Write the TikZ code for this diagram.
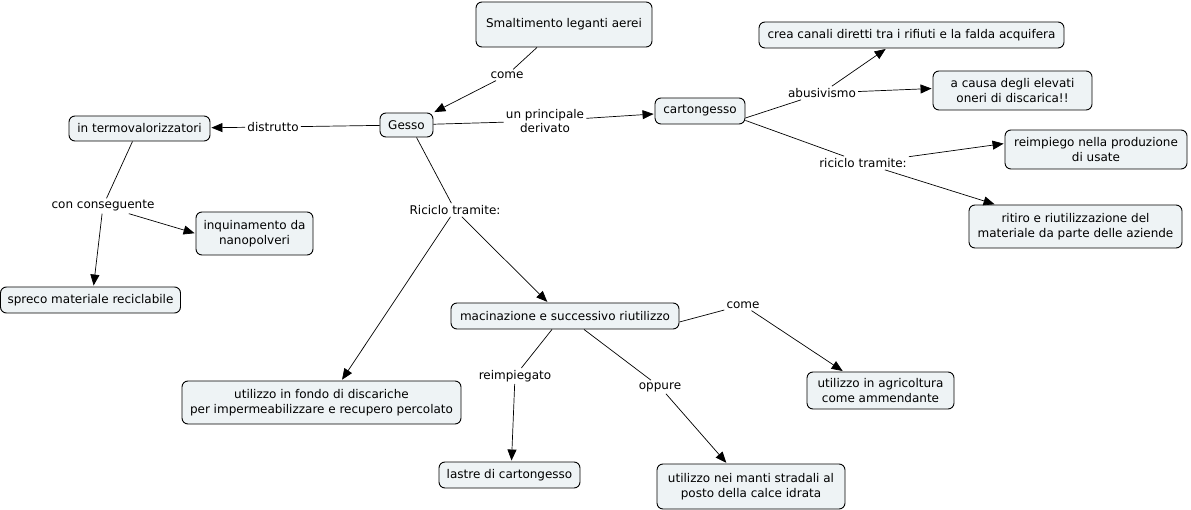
\documentclass[tikz,border=0pt]{standalone}
\usepackage{fontspec}
\setmainfont{DejaVu Sans}
\usetikzlibrary{arrows.meta}
\definecolor{boxfill}{HTML}{EEF3F5}
\tikzset{
  concept/.style={draw=black, fill=boxfill, rounded corners=6pt, line width=0.9pt,
    align=center, inner sep=0pt, font=\fontsize{12}{14.5}\selectfont},
  lbl/.style={align=center, inner sep=2pt, font=\fontsize{12}{14.5}\selectfont},
  conn/.style={line width=0.7pt},
  arr/.style={line width=0.7pt, -{Triangle[length=11pt,width=9pt]}, shorten >=1pt},
}
\begin{document}
\begin{tikzpicture}[x=1pt,y=-1pt]
\useasboundingbox (0,0) rectangle (1191,510);
% concepts
\node[concept, minimum width=176, minimum height=45] (smalt) at (564,24.5) {Smaltimento leganti aerei};
\node[concept, minimum width=53, minimum height=24] (gesso) at (406.5,125) {Gesso};
\node[concept, minimum width=90, minimum height=26] (cart) at (700,111) {cartongesso};
\node[concept, minimum width=305, minimum height=26] (crea) at (911.5,35) {crea canali diretti tra i rifiuti e la falda acquifera};
\node[concept, minimum width=159, minimum height=39] (acausa) at (1012.5,90.5) {a causa degli elevati\\oneri di discarica!!};
\node[concept, minimum width=182, minimum height=39] (reimp) at (1096,149.5) {reimpiego nella produzione\\di usate};
\node[concept, minimum width=213, minimum height=43] (ritiro) at (1075.5,226.5) {ritiro e riutilizzazione del\\materiale da parte delle aziende};
\node[concept, minimum width=141, minimum height=25] (termo) at (139.5,128.5) {in termovalorizzatori};
\node[concept, minimum width=117, minimum height=43] (inquin) at (254.5,233.5) {inquinamento da\\nanopolveri};
\node[concept, minimum width=180, minimum height=26] (spreco) at (90.5,300) {spreco materiale reciclabile};
\node[concept, minimum width=228, minimum height=26] (macin) at (565,316) {macinazione e successivo riutilizzo};
\node[concept, minimum width=279, minimum height=43] (fondo) at (321.5,402.5) {utilizzo in fondo di discariche\\per impermeabilizzare e recupero percolato};
\node[concept, minimum width=141, minimum height=26] (lastre) at (509.5,475) {lastre di cartongesso};
\node[concept, minimum width=188, minimum height=45] (manti) at (751,486.5) {utilizzo nei manti stradali al\\posto della calce idrata};
\node[concept, minimum width=147, minimum height=37] (agri) at (880.5,390.5) {utilizzo in agricoltura\\come ammendante};
% labels
\node[lbl] (l1) at (507,75) {come};
\node[lbl] (l2) at (545,121) {un principale\\derivato};
\node[lbl] (l3) at (273,127) {distrutto};
\node[lbl] (l4) at (103,206) {con conseguente};
\node[lbl] (l5) at (455,210) {Riciclo tramite:};
\node[lbl] (l6) at (822,93) {abusivismo};
\node[lbl] (l7) at (863,163) {riciclo tramite:};
\node[lbl] (l8) at (743,305) {come};
\node[lbl] (l9) at (515,376) {reimpiegato};
\node[lbl] (l10) at (660,387) {oppure};
% connectors
\draw[conn] ([xshift=-27pt]smalt.south) -- (l1);
\draw[arr] (l1) -- (gesso.north east);
\draw[conn] (gesso) -- (l2);
\draw[arr] (l2) -- (cart);
\draw[conn] (gesso) -- (l3);
\draw[arr] (l3) -- (termo);
\draw[conn] ([xshift=-7pt]termo.south) -- (l4);
\draw[arr] (l4) -- ([xshift=3pt]spreco.north);
\draw[arr] (l4) -- (inquin.west);
\draw[conn] ([xshift=10pt]gesso.south) -- (l5);
\draw[arr] (l5) -- ([xshift=20pt]fondo.north);
\draw[arr] (l5) -- ([xshift=-17pt]macin.north);
\draw[conn] ([yshift=-7pt]cart.east) -- (l6);
\draw[arr] (l6) -- ([xshift=-25pt]crea.south);
\draw[arr] (l6) -- ([yshift=2pt]acausa.west);
\draw[conn] ([yshift=4pt]cart.south east) -- (l7);
\draw[arr] (l7) -- ([yshift=6pt]reimp.west);
\draw[arr] (l7) -- ([xshift=-80pt]ritiro.north);
\draw[conn] ([yshift=-6pt]macin.east) -- (l8);
\draw[arr] (l8) -- ([xshift=-37pt]agri.north);
\draw[conn] ([xshift=-13pt]macin.south) -- (l9);
\draw[arr] (l9) -- ([xshift=2pt]lastre.north);
\draw[conn] ([xshift=19pt]macin.south) -- (l10);
\draw[arr] (l10) -- ([xshift=-24pt]manti.north);
\end{tikzpicture}
\end{document}
